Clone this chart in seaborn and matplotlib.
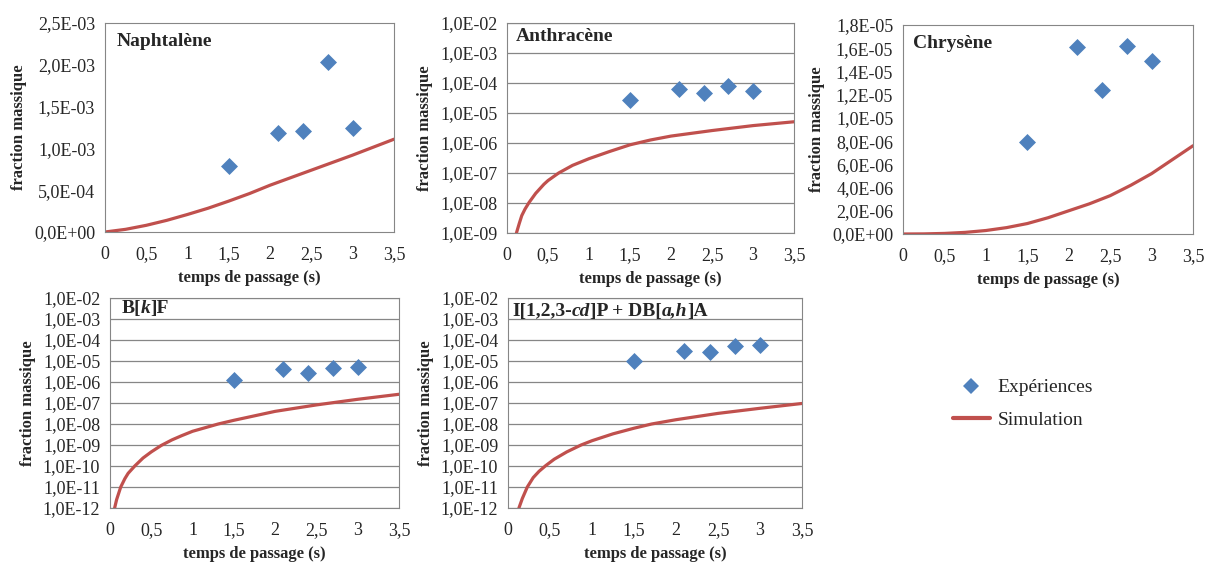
import matplotlib
matplotlib.use("Agg")
import matplotlib.pyplot as plt
import seaborn as sns
from matplotlib.ticker import FuncFormatter, FixedLocator, NullLocator
from matplotlib.lines import Line2D

# Points expérimentaux (temps de passage, s)
temps_exp = [1.5, 2.1, 2.4, 2.7, 3.0]
naph_exp = [7.9e-4, 1.18e-3, 1.21e-3, 2.03e-3, 1.24e-3]
anth_exp = [2.7e-5, 6.2e-5, 4.7e-5, 8.0e-5, 5.6e-5]
chry_exp = [7.95e-6, 1.61e-5, 1.24e-5, 1.62e-5, 1.49e-5]
bkf_exp = [1.3e-6, 4.1e-6, 2.7e-6, 4.5e-6, 5.3e-6]
ip_exp = [1.0e-5, 3.0e-5, 2.8e-5, 5.4e-5, 5.6e-5]

# Courbes de simulation
naph_t = [0, 0.25, 0.5, 0.75, 1.0, 1.25, 1.5, 1.75, 2.0, 2.25, 2.5, 2.75, 3.0, 3.25, 3.5]
naph_sim = [0, 3.2e-5, 8.0e-5, 1.4e-4, 2.1e-4, 2.85e-4, 3.7e-4, 4.6e-4, 5.6e-4,
            6.5e-4, 7.4e-4, 8.3e-4, 9.2e-4, 1.015e-3, 1.11e-3]

anth_t = [0.115, 0.15, 0.18, 0.22, 0.27, 0.35, 0.45, 0.5, 0.63, 0.8, 1.0, 1.25,
          1.5, 1.75, 2.0, 2.5, 3.0, 3.5]
anth_sim = [1e-9, 2.1e-9, 3.8e-9, 6.3e-9, 1.05e-8, 2.1e-8, 4.2e-8, 5.6e-8, 1e-7,
            1.8e-7, 3.0e-7, 5.2e-7, 8.7e-7, 1.26e-6, 1.7e-6, 2.6e-6, 3.8e-6, 5.1e-6]

chry_t = [0, 0.25, 0.5, 0.75, 1.0, 1.25, 1.5, 1.75, 2.0, 2.25, 2.5, 2.75, 3.0, 3.25, 3.5]
chry_sim = [0, 1e-8, 5e-8, 1.4e-7, 3.0e-7, 5.5e-7, 9.0e-7, 1.4e-6, 2.0e-6,
            2.6e-6, 3.3e-6, 4.2e-6, 5.2e-6, 6.4e-6, 7.6e-6]

bkf_t = [0.056, 0.08, 0.13, 0.18, 0.22, 0.30, 0.40, 0.50, 0.62, 0.75, 0.87, 1.0,
         1.31, 1.5, 2.0, 2.5, 3.0, 3.5]
bkf_sim = [1e-12, 2.5e-12, 1e-11, 2.5e-11, 4.5e-11, 1e-10, 2.4e-10, 4.7e-10, 9.5e-10,
           1.75e-9, 2.8e-9, 4.5e-9, 1e-8, 1.5e-8, 4.0e-8, 8.1e-8, 1.5e-7, 2.6e-7]

ip_t = [0.13, 0.17, 0.23, 0.30, 0.37, 0.45, 0.55, 0.70, 0.87, 1.0, 1.25, 1.5,
        1.71, 2.0, 2.5, 3.0, 3.5]
ip_sim = [1e-12, 2.8e-12, 1e-11, 2.8e-11, 5.6e-11, 1.05e-10, 2.1e-10, 4.7e-10, 1e-9,
          1.6e-9, 3.4e-9, 6.3e-9, 1e-8, 1.6e-8, 3.2e-8, 5.6e-8, 9.5e-8]

x_ticks = [0, 0.5, 1, 1.5, 2, 2.5, 3, 3.5]

BLEU = "#4F81BD"
ROUGE = "#C0504D"
GRIS = "#868686"

sns.set_style("white")
plt.rcParams["font.family"] = ["Liberation Serif", "DejaVu Serif"]

fig = plt.figure(figsize=(12.05, 5.62), dpi=100)


def fmt_sci(v, pos):
    return f"{v:.1E}".replace(".", ",")


def fmt_x(v, pos):
    return f"{v:g}".replace(".", ",")


def titre(ax, morceaux, x, y, size):
    # morceaux : liste de (texte, italique)
    prec = None
    for txt, ital in morceaux:
        style = "italic" if ital else "normal"
        if prec is None:
            prec = ax.text(x, y, txt, transform=ax.transAxes, fontsize=size,
                           fontweight="bold", style=style, va="center", ha="left")
        else:
            prec = ax.annotate(txt, xy=(1, 0), xycoords=prec, fontsize=size,
                               fontweight="bold", style=style, va="bottom", ha="left")


def panneau(rect, t_sim, y_sim, y_exp, log, ylim, yticks, morceaux, tx, ty):
    ax = fig.add_axes(rect)
    sns.lineplot(x=t_sim, y=y_sim, color=ROUGE, linewidth=2.3, ax=ax,
                 sort=False, estimator=None, zorder=2)
    sns.scatterplot(x=temps_exp, y=y_exp, marker="D", color=BLEU, s=75,
                    linewidth=0, ax=ax, zorder=3)
    if log:
        ax.set_yscale("log")
        ax.yaxis.grid(True, color=GRIS, linewidth=0.9)
    ax.set_axisbelow(True)
    ax.set_xlim(0, 3.5)
    ax.set_ylim(*ylim)
    ax.xaxis.set_major_locator(FixedLocator(x_ticks))
    ax.yaxis.set_major_locator(FixedLocator(yticks))
    ax.yaxis.set_minor_locator(NullLocator())
    ax.xaxis.set_major_formatter(FuncFormatter(fmt_x))
    ax.yaxis.set_major_formatter(FuncFormatter(fmt_sci))
    ax.tick_params(direction="out", length=4, width=0.8, color=GRIS, labelsize=13)
    ax.tick_params(axis="x", pad=6)
    ax.tick_params(axis="y", pad=3)
    for s in ax.spines.values():
        s.set_color(GRIS)
        s.set_linewidth(0.8)
    ax.set_xlabel("temps de passage (s)", fontsize=12, fontweight="bold", labelpad=5)
    ax.set_ylabel("fraction massique", fontsize=12, fontweight="bold", labelpad=5)
    titre(ax, morceaux, tx, ty, 14)
    return ax


W, H = 1205, 562


def rect(l, r, t, b):
    return [l / W, 1 - b / H, (r - l) / W, (b - t) / H]


panneau(rect(105, 394, 23, 232), naph_t, naph_sim, naph_exp, False,
        (0, 2.5e-3), [0, 5e-4, 1e-3, 1.5e-3, 2e-3, 2.5e-3],
        [("Naphtalène", False)], 0.04, 0.91)

panneau(rect(507, 794, 23, 233), anth_t, anth_sim, anth_exp, True,
        (1e-9, 1e-2), [10.0 ** k for k in range(-9, -1)],
        [("Anthracène", False)], 0.031, 0.938)

panneau(rect(903, 1193, 25, 234), chry_t, chry_sim, chry_exp, False,
        (0, 1.8e-5), [k * 2e-6 for k in range(10)],
        [("Chrysène", False)], 0.034, 0.91)

panneau(rect(110, 399, 298, 508), bkf_t, bkf_sim, bkf_exp, True,
        (1e-12, 1e-2), [10.0 ** k for k in range(-12, -1)],
        [("B[", False), ("k", True), ("]F", False)], 0.04, 0.948)

panneau(rect(508, 802, 298, 508), ip_t, ip_sim, ip_exp, True,
        (1e-12, 1e-2), [10.0 ** k for k in range(-12, -1)],
        [("I[1,2,3-", False), ("cd", True), ("]P + DB[", False), ("a,h", True), ("]A", False)],
        0.014, 0.938)

handles = [
    Line2D([], [], marker="D", color=BLEU, linestyle="none", markersize=8.5,
           markeredgewidth=0),
    Line2D([], [], color=ROUGE, linewidth=3),
]
fig.legend(handles, ["Expériences", "Simulation"], loc="upper left",
           bbox_to_anchor=(943 / W, 1 - 369 / H), frameon=False, fontsize=14,
           handlelength=1.9, handletextpad=0.4, labelspacing=0.75, borderpad=0)

fig.savefig("out.png", dpi=100)
